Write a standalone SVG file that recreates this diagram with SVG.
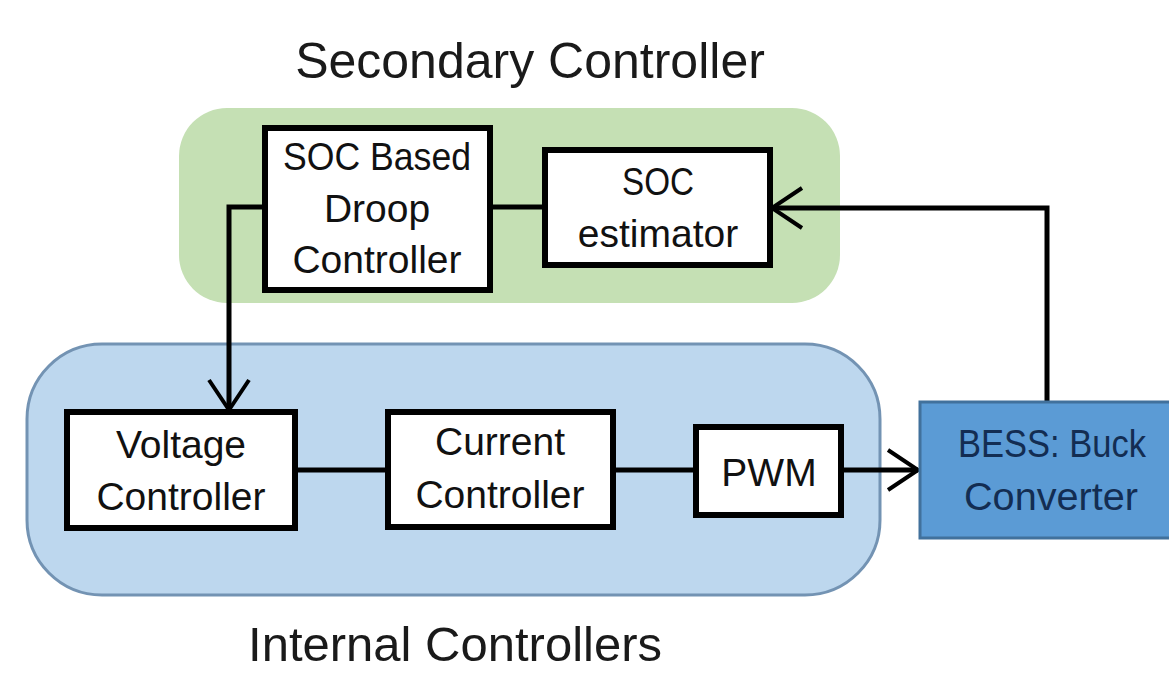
<svg xmlns="http://www.w3.org/2000/svg" width="1169" height="673" viewBox="0 0 1169 673">
  <defs>
    <style>
      .title { font-family: "Liberation Sans", Arial, sans-serif; font-size: 50px; fill: #1a1a1a; text-anchor: middle; }
      .lbl { font-family: "Liberation Sans", Arial, sans-serif; font-size: 39px; fill: #111; text-anchor: middle; }
      .lbl-dark { font-family: "Liberation Sans", Arial, sans-serif; font-size: 39px; fill: #132d52; text-anchor: middle; }
      .box { fill: #ffffff; stroke: #000; stroke-width: 6; }
      .wire { fill: none; stroke: #000; stroke-width: 5; }
    </style>
    <marker id="chev" markerUnits="userSpaceOnUse" markerWidth="50" markerHeight="50" viewBox="-40 -25 50 50" refX="0" refY="0" orient="auto" overflow="visible">
      <path d="M-30,-20 L0,0 L-30,20" fill="none" stroke="#000" stroke-width="4"/>
    </marker>
  </defs>
  <rect width="1169" height="673" fill="#ffffff"/>

  <g id="secondary-region">
    <rect x="179" y="108" width="661" height="195" rx="48" ry="48" fill="#c5e0b4"/>
    <text class="title" x="530" y="78">Secondary Controller</text>
  </g>

  <g id="internal-region">
    <rect x="27" y="344" width="853" height="251" rx="75" ry="75" fill="#bdd7ee" stroke="#7393b3" stroke-width="3"/>
    <text class="title" x="455" y="661" style="font-size:49px">Internal Controllers</text>
  </g>

  <g id="connectors">
    <path class="wire" d="M265,207 H229 V410" marker-end="url(#chev)"/>
    <path class="wire" d="M490,207 H545"/>
    <path class="wire" d="M1047,402 V208 H772" marker-end="url(#chev)"/>
    <path class="wire" d="M295,470 H388"/>
    <path class="wire" d="M613,470 H696"/>
    <path class="wire" d="M841,470 H918" marker-end="url(#chev)"/>
  </g>

  <g id="soc-droop">
    <rect class="box" x="265" y="128" width="225" height="162"/>
    <text class="lbl" x="377" y="170" textLength="188" lengthAdjust="spacingAndGlyphs">SOC Based</text>
    <text class="lbl" x="377" y="222">Droop</text>
    <text class="lbl" x="377" y="273">Controller</text>
  </g>

  <g id="soc-estimator">
    <rect class="box" x="545" y="150" width="225" height="115"/>
    <text class="lbl" x="658" y="195" textLength="72" lengthAdjust="spacingAndGlyphs">SOC</text>
    <text class="lbl" x="658" y="247">estimator</text>
  </g>

  <g id="voltage-controller">
    <rect class="box" x="67" y="412" width="228" height="116"/>
    <text class="lbl" x="181" y="458">Voltage</text>
    <text class="lbl" x="181" y="510">Controller</text>
  </g>

  <g id="current-controller">
    <rect class="box" x="388" y="412" width="225" height="115"/>
    <text class="lbl" x="500" y="455">Current</text>
    <text class="lbl" x="500" y="508">Controller</text>
  </g>

  <g id="pwm">
    <rect class="box" x="696" y="427" width="145" height="88"/>
    <text class="lbl" x="769" y="486">PWM</text>
  </g>

  <g id="bess">
    <rect x="920" y="402" width="255" height="136" fill="#5b9bd5" stroke="#41719c" stroke-width="3"/>
    <text class="lbl-dark" x="1052" y="457" textLength="188" lengthAdjust="spacingAndGlyphs">BESS: Buck</text>
    <text class="lbl-dark" x="1051" y="510" textLength="174" lengthAdjust="spacingAndGlyphs">Converter</text>
  </g>
</svg>
